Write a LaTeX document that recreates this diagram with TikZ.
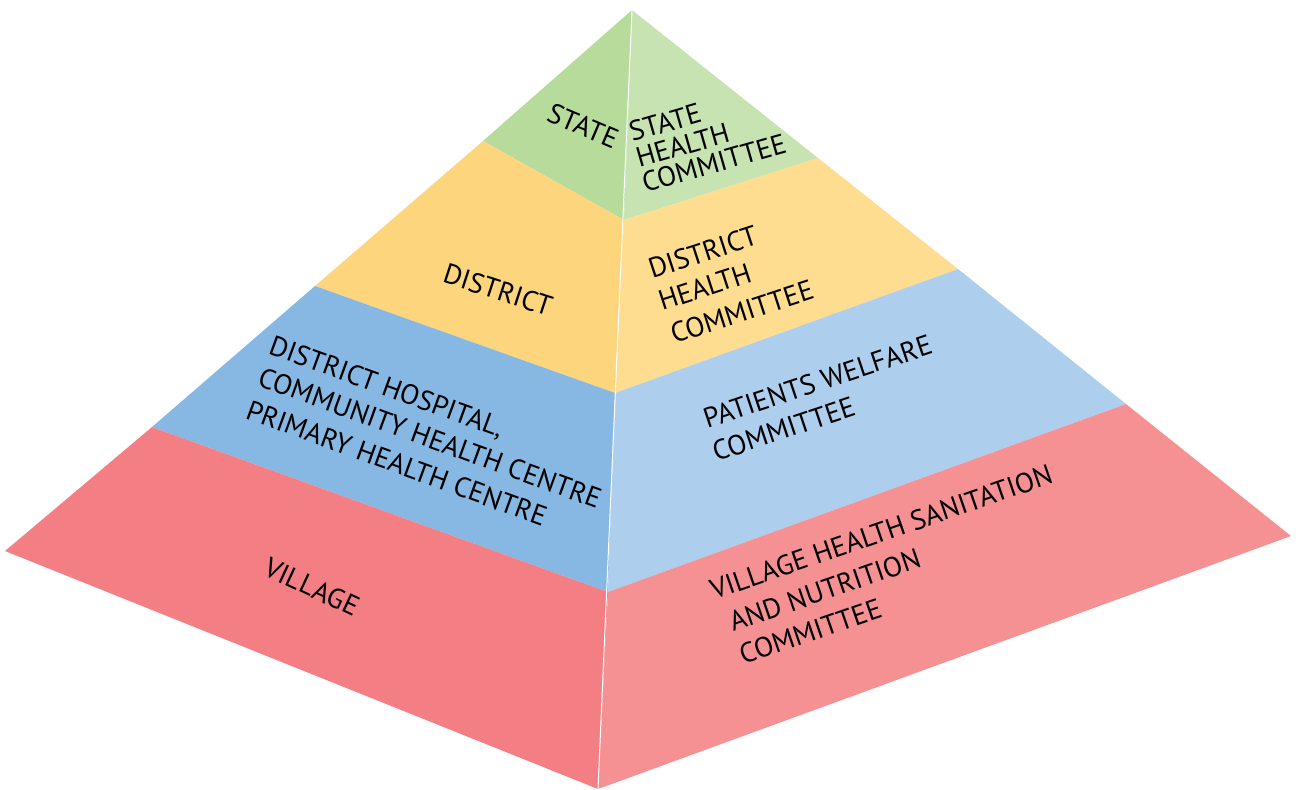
\documentclass[tikz,border=0pt]{standalone}
\usepackage{fontspec}
\setmainfont{PT Sans}
\definecolor{gL}{HTML}{B6DB9B}
\definecolor{gR}{HTML}{C7E3B2}
\definecolor{yL}{HTML}{FDD57D}
\definecolor{yR}{HTML}{FEDD91}
\definecolor{bL}{HTML}{86B8E3}
\definecolor{bR}{HTML}{AECEED}
\definecolor{rL}{HTML}{F37F85}
\definecolor{rR}{HTML}{F59193}
\tikzset{
  lbl/.style={inner sep=0pt,text=black,font=\fontsize{14}{16}\selectfont},
  ln/.style={lbl,anchor=base west}
}
\begin{document}
\begin{tikzpicture}[x=0.5pt,y=-0.5pt]
\useasboundingbox (0,0) rectangle (1296,789);
% key points
\coordinate (A) at (632,10);
\coordinate (c1) at (624,220);
\coordinate (c2) at (615,393);
\coordinate (c3) at (608,592);
\coordinate (c4) at (598,789);
\coordinate (l1) at (483,141);
\coordinate (l2) at (315,286);
\coordinate (l3) at (152,427);
\coordinate (l4) at (5,551);
\coordinate (r1) at (818,158);
\coordinate (r2) at (958,269);
\coordinate (r3) at (1126,404);
\coordinate (r4) at (1291,536);
% left face
\fill[gL] (A) -- (l1) -- (c1) -- cycle;
\fill[yL] (l1) -- (l2) -- (c2) -- (c1) -- cycle;
\fill[bL] (l2) -- (l3) -- (c3) -- (c2) -- cycle;
\fill[rL] (l3) -- (l4) -- (c4) -- (c3) -- cycle;
% right face
\fill[gR] (A) -- (r1) -- (c1) -- cycle;
\fill[yR] (r1) -- (r2) -- (c2) -- (c1) -- cycle;
\fill[bR] (r2) -- (r3) -- (c3) -- (c2) -- cycle;
\fill[rR] (r3) -- (r4) -- (c4) -- (c3) -- cycle;
% central edge
\draw[white,line width=0.5pt] (A) -- (c4);
% left labels
\node[lbl,rotate=-23] (state) at (583,126) {STATE};
\node[lbl,rotate=-18] (district) at (498,290) {DISTRICT};
\node[ln,rotate=-20] (dh1) at (267,353) {DISTRICT HOSPITAL,};
\node[ln,rotate=-20] (dh2) at (256,385) {COMMUNITY HEALTH CENTRE};
\node[ln,rotate=-20] (dh3) at (244,418) {PRIMARY HEALTH CENTRE};
\node[lbl,rotate=-25] (village) at (312,587) {VILLAGE};
% right labels
\node[ln,rotate=16] (shc1) at (632,142) {STATE};
\node[ln,rotate=16] (shc2) at (639,168) {HEALTH};
\node[ln,rotate=16] (shc3) at (645,193) {COMMITTEE};
\node[ln,rotate=18] (dhc1) at (652,279) {DISTRICT};
\node[ln,rotate=18] (dhc2) at (662,311) {HEALTH};
\node[ln,rotate=18] (dhc3) at (674,344) {COMMITTEE};
\node[ln,rotate=18.5] (pwc1) at (707,429) {PATIENTS WELFARE};
\node[ln,rotate=18.5] (pwc2) at (716,462) {COMMITTEE};
\node[ln,rotate=19] (vh1) at (714,600) {VILLAGE HEALTH SANITATION};
\node[ln,rotate=19] (vh2) at (733,632) {AND NUTRITION};
\node[ln,rotate=19] (vh3) at (743,665) {COMMITTEE};
\end{tikzpicture}
\end{document}
